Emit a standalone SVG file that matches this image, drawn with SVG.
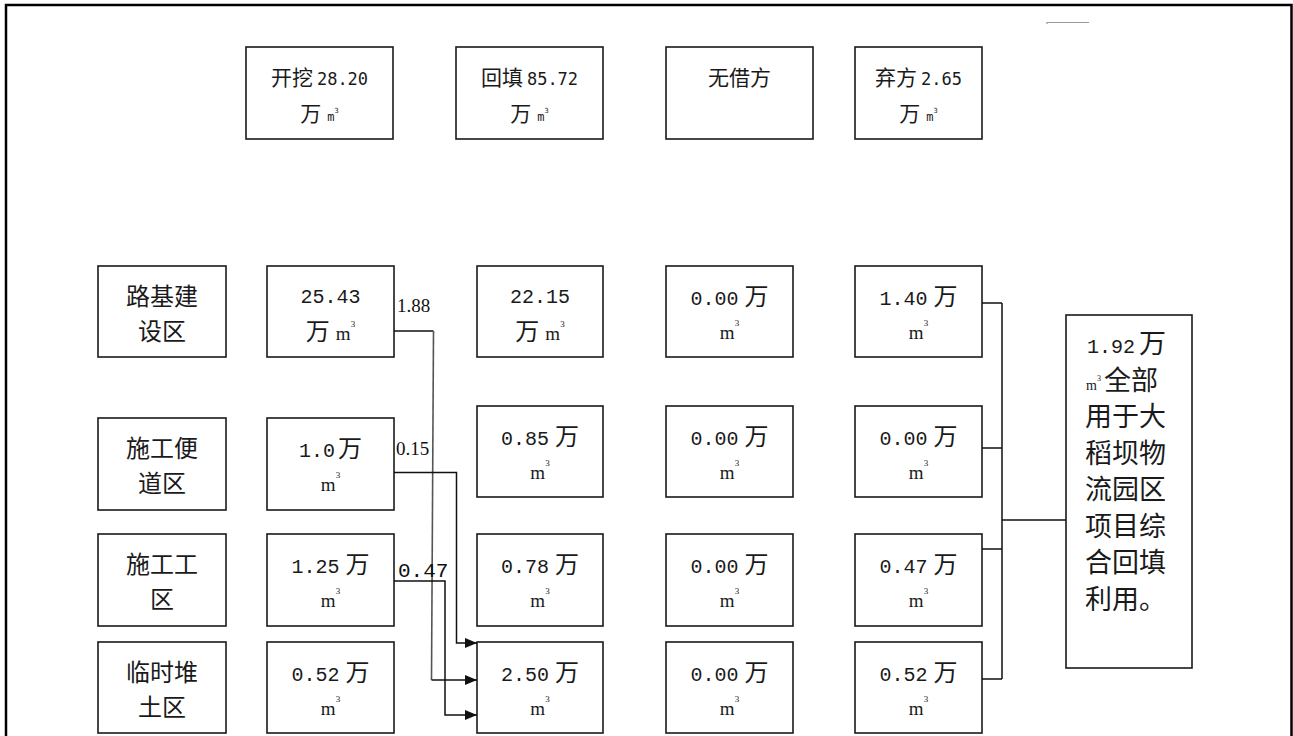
<svg xmlns="http://www.w3.org/2000/svg" width="1293" height="736" viewBox="0 0 1293 736">
<defs>
<style>
.box{fill:#fff;stroke:#1a1a1a;stroke-width:1.6}
.t{font-family:"Noto Sans CJK SC","Noto Sans CJK JP",sans-serif;fill:#1a1a1a;text-anchor:middle}
.tl{font-family:"Noto Sans CJK SC","Noto Sans CJK JP",sans-serif;fill:#1a1a1a}
.num{font-family:"Liberation Mono",monospace}
.hnum{font-family:"DejaVu Sans Mono",monospace}
.m{font-family:"Liberation Serif",serif}
.conn{fill:none;stroke:#111;stroke-width:1.5}
.lbl{font-family:"Liberation Serif",serif;font-size:19px;fill:#111}
.lblm{font-family:"Liberation Mono",monospace;font-size:21px;fill:#111}
</style>
<marker id="arr" viewBox="0 0 12 10" refX="12" refY="5" markerWidth="12" markerHeight="10" markerUnits="userSpaceOnUse" orient="auto">
<path d="M0 0 L12 5 L0 10 Z" fill="#111"/>
</marker>
</defs>
<rect width="1293" height="736" fill="#fff"/>
<path d="M6 736 V5 H1291.5 V736" fill="none" stroke="#000" stroke-width="2.5"/>
<path d="M1047 24 V22.5 H1089" fill="none" stroke="#999" stroke-width="1.2"/>

<!-- header -->
<g id="h-excavate">
<rect class="box" x="246" y="47" width="147" height="92"/>
<text class="t" x="319.5" y="85" font-size="21">开挖<tspan class="hnum" font-size="17" dx="4">28.20</tspan></text>
<text class="t" x="319.5" y="121" font-size="21">万<tspan class="hnum" font-size="12" dx="6">m</tspan><tspan class="hnum" font-size="7" dy="-8">3</tspan></text>
</g>
<g id="h-fill">
<rect class="box" x="456" y="47" width="147" height="92"/>
<text class="t" x="529.5" y="85" font-size="21">回填<tspan class="hnum" font-size="17" dx="4">85.72</tspan></text>
<text class="t" x="529.5" y="121" font-size="21">万<tspan class="hnum" font-size="12" dx="6">m</tspan><tspan class="hnum" font-size="7" dy="-8">3</tspan></text>
</g>
<g id="h-borrow">
<rect class="box" x="666" y="47" width="147" height="92"/>
<text class="t" x="739.5" y="85" font-size="21">无借方</text>
</g>
<g id="h-waste">
<rect class="box" x="855" y="47" width="127" height="92"/>
<text class="t" x="918.5" y="85" font-size="21">弃方<tspan class="hnum" font-size="17" dx="4">2.65</tspan></text>
<text class="t" x="918.5" y="121" font-size="21">万<tspan class="hnum" font-size="12" dx="6">m</tspan><tspan class="hnum" font-size="7" dy="-8">3</tspan></text>
</g>

<!-- left labels -->
<g id="l-1">
<rect class="box" x="98" y="266" width="128" height="91"/>
<text class="t" x="162" y="305" font-size="24">路基建</text>
<text class="t" x="162" y="340" font-size="24">设区</text>
</g>
<g id="l-2">
<rect class="box" x="98" y="418" width="128" height="92"/>
<text class="t" x="162" y="457" font-size="24">施工便</text>
<text class="t" x="162" y="492" font-size="24">道区</text>
</g>
<g id="l-3">
<rect class="box" x="98" y="534" width="128" height="92"/>
<text class="t" x="162" y="573" font-size="24">施工工</text>
<text class="t" x="162" y="608" font-size="24">区</text>
</g>
<g id="l-4">
<rect class="box" x="98" y="642" width="128" height="91"/>
<text class="t" x="162" y="681" font-size="24">临时堆</text>
<text class="t" x="162" y="716" font-size="24">土区</text>
</g>

<!-- excavation column -->
<g id="a-1">
<rect class="box" x="267" y="266" width="127" height="91"/>
<text class="t" x="330.5" y="303" font-size="24"><tspan class="num" font-size="20">25.43</tspan></text>
<text class="t" x="330.5" y="340" font-size="24">万<tspan class="m" font-size="19" dx="6">m</tspan><tspan class="m" font-size="9" dy="-13">3</tspan></text>
</g>
<g id="a-2">
<rect class="box" x="267" y="418" width="127" height="92"/>
<text class="t" x="330.5" y="457" font-size="24"><tspan class="num" font-size="20">1.0</tspan><tspan dx="3">万</tspan></text>
<text class="t" x="330.5" y="491" font-size="24"><tspan class="m" font-size="19">m</tspan><tspan class="m" font-size="9" dy="-13">3</tspan></text>
</g>
<g id="a-3">
<rect class="box" x="267" y="534" width="127" height="92"/>
<text class="t" x="330.5" y="573" font-size="24"><tspan class="num" font-size="20">1.25</tspan><tspan dx="6">万</tspan></text>
<text class="t" x="330.5" y="607" font-size="24"><tspan class="m" font-size="19">m</tspan><tspan class="m" font-size="9" dy="-13">3</tspan></text>
</g>
<g id="a-4">
<rect class="box" x="267" y="642" width="127" height="91"/>
<text class="t" x="330.5" y="681" font-size="24"><tspan class="num" font-size="20">0.52</tspan><tspan dx="6">万</tspan></text>
<text class="t" x="330.5" y="715" font-size="24"><tspan class="m" font-size="19">m</tspan><tspan class="m" font-size="9" dy="-13">3</tspan></text>
</g>

<!-- fill column -->
<g id="b-1">
<rect class="box" x="477" y="266" width="126" height="91"/>
<text class="t" x="540" y="303" font-size="24"><tspan class="num" font-size="20">22.15</tspan></text>
<text class="t" x="540" y="340" font-size="24">万<tspan class="m" font-size="19" dx="6">m</tspan><tspan class="m" font-size="9" dy="-13">3</tspan></text>
</g>
<g id="b-2">
<rect class="box" x="477" y="406" width="126" height="91"/>
<text class="t" x="540" y="445" font-size="24"><tspan class="num" font-size="20">0.85</tspan><tspan dx="6">万</tspan></text>
<text class="t" x="540" y="479" font-size="24"><tspan class="m" font-size="19">m</tspan><tspan class="m" font-size="9" dy="-13">3</tspan></text>
</g>
<g id="b-3">
<rect class="box" x="477" y="534" width="126" height="92"/>
<text class="t" x="540" y="573" font-size="24"><tspan class="num" font-size="20">0.78</tspan><tspan dx="6">万</tspan></text>
<text class="t" x="540" y="607" font-size="24"><tspan class="m" font-size="19">m</tspan><tspan class="m" font-size="9" dy="-13">3</tspan></text>
</g>
<g id="b-4">
<rect class="box" x="477" y="642" width="126" height="91"/>
<text class="t" x="540" y="681" font-size="24"><tspan class="num" font-size="20">2.50</tspan><tspan dx="6">万</tspan></text>
<text class="t" x="540" y="715" font-size="24"><tspan class="m" font-size="19">m</tspan><tspan class="m" font-size="9" dy="-13">3</tspan></text>
</g>

<!-- borrow column -->
<g id="c-1">
<rect class="box" x="666" y="266" width="127" height="91"/>
<text class="t" x="729.5" y="305" font-size="24"><tspan class="num" font-size="20">0.00</tspan><tspan dx="6">万</tspan></text>
<text class="t" x="729.5" y="339" font-size="24"><tspan class="m" font-size="19">m</tspan><tspan class="m" font-size="9" dy="-13">3</tspan></text>
</g>
<g id="c-2">
<rect class="box" x="666" y="406" width="127" height="91"/>
<text class="t" x="729.5" y="445" font-size="24"><tspan class="num" font-size="20">0.00</tspan><tspan dx="6">万</tspan></text>
<text class="t" x="729.5" y="479" font-size="24"><tspan class="m" font-size="19">m</tspan><tspan class="m" font-size="9" dy="-13">3</tspan></text>
</g>
<g id="c-3">
<rect class="box" x="666" y="534" width="127" height="92"/>
<text class="t" x="729.5" y="573" font-size="24"><tspan class="num" font-size="20">0.00</tspan><tspan dx="6">万</tspan></text>
<text class="t" x="729.5" y="607" font-size="24"><tspan class="m" font-size="19">m</tspan><tspan class="m" font-size="9" dy="-13">3</tspan></text>
</g>
<g id="c-4">
<rect class="box" x="666" y="642" width="127" height="91"/>
<text class="t" x="729.5" y="681" font-size="24"><tspan class="num" font-size="20">0.00</tspan><tspan dx="6">万</tspan></text>
<text class="t" x="729.5" y="715" font-size="24"><tspan class="m" font-size="19">m</tspan><tspan class="m" font-size="9" dy="-13">3</tspan></text>
</g>

<!-- waste column -->
<g id="d-1">
<rect class="box" x="855" y="266" width="127" height="91"/>
<text class="t" x="918.5" y="305" font-size="24"><tspan class="num" font-size="20">1.40</tspan><tspan dx="6">万</tspan></text>
<text class="t" x="918.5" y="339" font-size="24"><tspan class="m" font-size="19">m</tspan><tspan class="m" font-size="9" dy="-13">3</tspan></text>
</g>
<g id="d-2">
<rect class="box" x="855" y="406" width="127" height="91"/>
<text class="t" x="918.5" y="445" font-size="24"><tspan class="num" font-size="20">0.00</tspan><tspan dx="6">万</tspan></text>
<text class="t" x="918.5" y="479" font-size="24"><tspan class="m" font-size="19">m</tspan><tspan class="m" font-size="9" dy="-13">3</tspan></text>
</g>
<g id="d-3">
<rect class="box" x="855" y="534" width="127" height="92"/>
<text class="t" x="918.5" y="573" font-size="24"><tspan class="num" font-size="20">0.47</tspan><tspan dx="6">万</tspan></text>
<text class="t" x="918.5" y="607" font-size="24"><tspan class="m" font-size="19">m</tspan><tspan class="m" font-size="9" dy="-13">3</tspan></text>
</g>
<g id="d-4">
<rect class="box" x="855" y="642" width="127" height="91"/>
<text class="t" x="918.5" y="681" font-size="24"><tspan class="num" font-size="20">0.52</tspan><tspan dx="6">万</tspan></text>
<text class="t" x="918.5" y="715" font-size="24"><tspan class="m" font-size="19">m</tspan><tspan class="m" font-size="9" dy="-13">3</tspan></text>
</g>

<!-- result box -->
<g id="result">
<rect class="box" x="1066" y="315" width="126" height="353"/>
<text class="tl" x="1087" y="353" font-size="27"><tspan class="num" font-size="20">1.92</tspan><tspan dx="4">万</tspan></text>
<text class="tl" x="1086" y="389.5" font-size="27"><tspan class="m" font-size="14">m</tspan><tspan class="m" font-size="8" dy="-9">3</tspan><tspan dy="9" dx="3">全部</tspan></text>
<text class="tl" x="1085" y="426" font-size="27">用于大</text>
<text class="tl" x="1085" y="462.5" font-size="27">稻坝物</text>
<text class="tl" x="1085" y="499" font-size="27">流园区</text>
<text class="tl" x="1085" y="535.5" font-size="27">项目综</text>
<text class="tl" x="1085" y="572" font-size="27">合回填</text>
<text class="tl" x="1085" y="608.5" font-size="27">利用。</text>
</g>

<!-- connectors -->
<g id="connectors">
<path class="conn" d="M394 331 H433.5"/>
<path d="M433.5 331 L431.5 680" fill="none" stroke="#555" stroke-width="1.6"/>
<path class="conn" d="M431.5 680 H477" marker-end="url(#arr)"/>
<path class="conn" d="M394 472.5 H456.5 V643 H477" marker-end="url(#arr)"/>
<path class="conn" d="M394 581 H445 V715 H477" marker-end="url(#arr)"/>
<path class="conn" d="M982 303 H1002 M982 448 H1002 M982 549 H1002 M982 679 H1002 M1002 303 V679 M1002 520 H1066"/>
<text class="lbl" x="397" y="312">1.88</text>
<text class="lbl" x="396" y="455">0.15</text>
<text class="lblm" x="398" y="577">0.47</text>
</g>
</svg>
